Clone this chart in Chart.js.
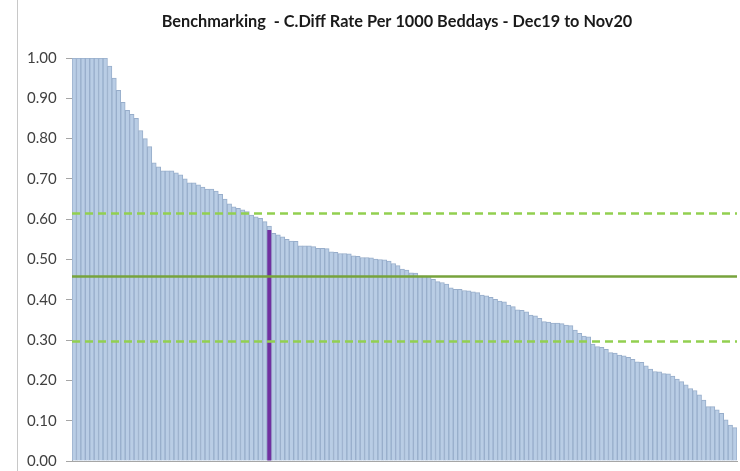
<!DOCTYPE html>
<html>
<head>
<meta charset="utf-8">
<script src="https://cdn.jsdelivr.net/npm/chart.js@4.4.1/dist/chart.umd.min.js"></script>
<style>
  html, body { margin: 0; padding: 0; background: #ffffff; }
  #wrap { position: relative; width: 740px; height: 471px; }
  #edge { position: absolute; left: 17px; top: 0; width: 1px; height: 471px; background: #c8c8c8; }
  #chart { position: absolute; left: 0; top: 0; }
</style>
</head>
<body>
<div id="wrap">
  <div id="edge"></div>
  <canvas id="chart" width="740" height="471"></canvas>
</div>
<script>
// C.Diff rate per 1000 beddays, one bar per organisation, ranked high to low
const chartTitle = 'Benchmarking  - C.Diff Rate Per 1000 Beddays - Dec19 to Nov20';

const rates = [
  1.00, 1.00, 1.00, 1.00, 1.00, 1.00, 1.00, 1.00, 0.98, 0.95,
  0.92, 0.89, 0.87, 0.86, 0.85, 0.82, 0.80, 0.78, 0.74, 0.73,
  0.72, 0.72, 0.72, 0.715, 0.71, 0.70, 0.69, 0.69, 0.685, 0.68,
  0.675, 0.675, 0.67, 0.662, 0.65, 0.638, 0.631, 0.627, 0.623, 0.619,
  0.61, 0.606, 0.602, 0.594, 0.583, 0.565, 0.561, 0.556, 0.55, 0.546,
  0.545, 0.534, 0.534, 0.534, 0.532, 0.528, 0.528, 0.527, 0.519, 0.518,
  0.515, 0.515, 0.514, 0.509, 0.508, 0.505, 0.505, 0.504, 0.501, 0.50,
  0.499, 0.496, 0.49, 0.485, 0.476, 0.474, 0.467, 0.466, 0.459, 0.459,
  0.458, 0.451, 0.445, 0.443, 0.439, 0.43, 0.426, 0.426, 0.423, 0.422,
  0.42, 0.418, 0.412, 0.41, 0.406, 0.401, 0.397, 0.395, 0.387, 0.383,
  0.375, 0.374, 0.37, 0.362, 0.36, 0.354, 0.346, 0.345, 0.342, 0.342,
  0.341, 0.337, 0.336, 0.325, 0.317, 0.31, 0.308, 0.29, 0.284, 0.282,
  0.277, 0.269, 0.268, 0.263, 0.261, 0.257, 0.252, 0.246, 0.245, 0.236,
  0.228, 0.222, 0.221, 0.217, 0.216, 0.211, 0.203, 0.197, 0.189, 0.18,
  0.175, 0.164, 0.151, 0.135, 0.135, 0.127, 0.118, 0.102, 0.089, 0.083
];

// the organisation picked out in purple
const highlightIndex = 44;
const highlightRate = 0.573;

// mean and control limits
const meanRate = 0.458;
const upperLimit = 0.615;
const lowerLimit = 0.299;

const yTicks = [0.0, 0.1, 0.2, 0.3, 0.4, 0.5, 0.6, 0.7, 0.8, 0.9, 1.0];

const categories = rates.map((_, i) => 'Rank ' + (i + 1));
const highlightData = rates.map((_, i) => (i === highlightIndex ? highlightRate : null));

// horizontal mean / limit lines across the plot area
const referenceLines = {
  id: 'referenceLines',
  afterDatasetsDraw(chart) {
    const { ctx, chartArea: area, scales: { y } } = chart;
    const drawLine = (value, color, dash) => {
      const py = Math.round(y.getPixelForValue(value)) + 0.5;
      ctx.save();
      ctx.strokeStyle = color;
      ctx.lineWidth = 2.5;
      ctx.setLineDash(dash);
      ctx.beginPath();
      ctx.moveTo(area.left, py);
      ctx.lineTo(area.right, py);
      ctx.stroke();
      ctx.restore();
    };
    drawLine(upperLimit, '#92D050', [8, 5]);
    drawLine(lowerLimit, '#92D050', [8, 5]);
    drawLine(meanRate, '#77A33C', []);
  }
};

// chart heading
const headingText = {
  id: 'headingText',
  afterDraw(chart) {
    const { ctx } = chart;
    ctx.save();
    ctx.font = 'bold 16.3px Lato, "Open Sans", sans-serif';
    ctx.fillStyle = '#1a1a1a';
    ctx.textAlign = 'center';
    ctx.textBaseline = 'middle';
    ctx.fillText(chartTitle, 397, 22);
    ctx.restore();
  }
};

new Chart(document.getElementById('chart'), {
  type: 'bar',
  data: {
    labels: categories,
    datasets: [
      {
        label: 'Selected',
        data: highlightData,
        backgroundColor: '#7030A0',
        borderWidth: 0,
        barPercentage: 0.9,
        categoryPercentage: 1
      },
      {
        label: 'C.Diff rate',
        data: rates,
        backgroundColor: '#B9CDE5',
        borderColor: '#98AECB',
        borderWidth: 1,
        barPercentage: 1,
        categoryPercentage: 1
      }
    ]
  },
  options: {
    responsive: false,
    animation: false,
    devicePixelRatio: 1,
    layout: { padding: { top: 58, right: 3, bottom: 10, left: 27 } },
    plugins: {
      legend: { display: false },
      tooltip: { enabled: false },
      title: { display: false }
    },
    scales: {
      x: {
        type: 'category',
        stacked: true,
        afterFit: (scale) => { scale.height = 0; },
        ticks: { display: false },
        grid: { display: true, drawOnChartArea: false, drawTicks: false },
        border: { display: true, color: '#a6a6a6', width: 1 }
      },
      y: {
        stacked: false,
        min: 0,
        max: 1,
        afterBuildTicks: (scale) => { scale.ticks = yTicks.map(v => ({ value: v })); },
        afterFit: (scale) => { scale.width = 45; },
        ticks: {
          callback: (v) => Number(v).toFixed(2),
          font: { family: 'Lato, "Open Sans", sans-serif', size: 15 },
          color: '#404040',
          crossAlign: 'far',
          padding: 0
        },
        grid: { drawOnChartArea: false, drawTicks: true, tickLength: 6, color: '#a6a6a6' },
        border: { display: true, color: '#a6a6a6', width: 1 }
      }
    }
  },
  plugins: [referenceLines, headingText]
});
</script>
</body>
</html>
